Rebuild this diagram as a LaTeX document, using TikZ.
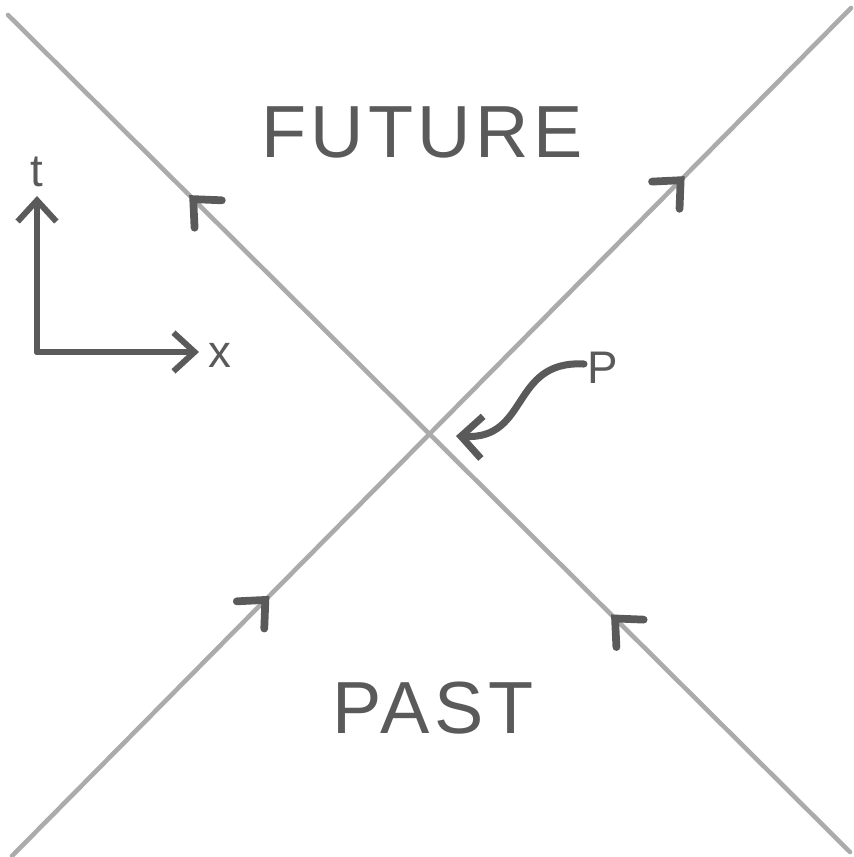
\documentclass[tikz,border=0pt]{standalone}
\usepackage{fontspec}
\setmainfont{Liberation Sans}
\usetikzlibrary{arrows.meta,decorations.markings}
\definecolor{pencil}{HTML}{5A5A5A}
\definecolor{lightpencil}{HTML}{ABABAB}
\tikzset{
  lightline/.style={draw=lightpencil,line width=1.3pt,line cap=round},
  axisline/.style={draw=pencil,line width=1.7pt,line cap=round,-{Straight Barb[length=6pt,width=11pt,line width=1.7pt]}},
  chevrons/.style 2 args={postaction={decorate,decoration={markings,
     mark=at position #1 with {\draw[pencil,line width=2.2pt,line cap=round] (-6pt,5.5pt) -- (0,0) -- (-6pt,-5.5pt);},
     mark=at position #2 with {\draw[pencil,line width=2.2pt,line cap=round] (-6pt,5.5pt) -- (0,0) -- (-6pt,-5.5pt);}}}},
  bigword/.style={text=pencil,font=\fontsize{21}{24}\selectfont\addfontfeature{LetterSpace=6}},
  smallword/.style={text=pencil,font=\fontsize{13}{15}\selectfont},
}
\begin{document}
\begin{tikzpicture}[x=0.01cm,y=-0.01cm]
\useasboundingbox (0,0) rectangle (854,857);
% end points of the light lines
\coordinate (L1s) at (850,852);
\coordinate (L1e) at (8,15);
\coordinate (L2s) at (12,856);
\coordinate (L2e) at (851,8);
\draw[lightline,chevrons={0.279}{0.78}] (L1s) -- (L1e);
\draw[lightline,chevrons={0.302}{0.797}] (L2s) -- (L2e);
% labels
\node[bigword] (future) at (422,132) {FUTURE};
\node[bigword] (past) at (433,708) {PAST};
% axes
\coordinate (O) at (37,352);
\coordinate (T) at (37,196);
\coordinate (X) at (199,352);
\draw[axisline] (O) -- (T);
\draw[axisline] (O) -- (X);
\node[smallword] (tlab) at (37,172) {t};
\node[smallword] (xlab) at (220,355) {x};
% point P
\coordinate (Pt) at (456,436);
\coordinate (Ps) at (584,364);
\node[smallword] (plab) at (603,368) {P};
\draw[pencil,line width=2pt,line cap=round,-{Straight Barb[length=6pt,width=12pt,line width=2pt]}]
  (Ps) .. controls (510,360) and (530,440) .. (Pt);
\end{tikzpicture}
\end{document}
